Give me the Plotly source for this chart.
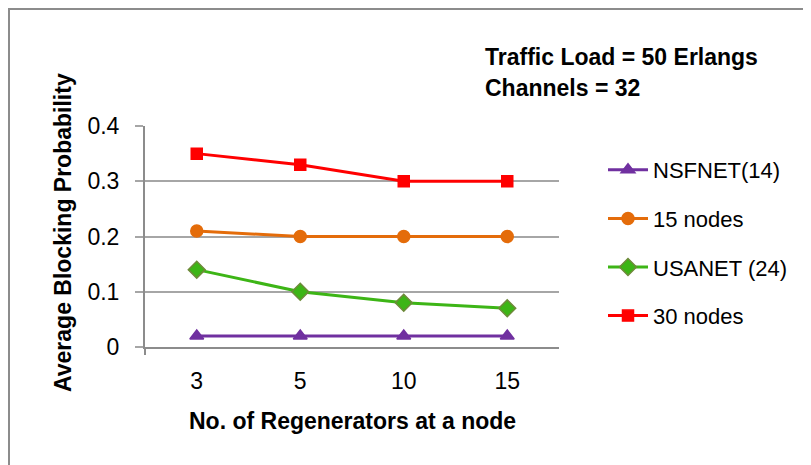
import plotly.graph_objects as go

categories = ["3", "5", "10", "15"]
nsfnet = [0.02, 0.02, 0.02, 0.02]
nodes15 = [0.21, 0.20, 0.20, 0.20]
usanet = [0.14, 0.10, 0.08, 0.07]
nodes30 = [0.35, 0.33, 0.30, 0.30]
y_ticks = [0, 0.1, 0.2, 0.3, 0.4]
y_tick_labels = ["0", "0.1", "0.2", "0.3", "0.4"]

FONT = "Liberation Sans, Arial, sans-serif"

fig = go.Figure()
series = [
    ("NSFNET(14)", nsfnet, "#7030A0", "triangle-up", 12, "#7030A0"),
    ("15 nodes", nodes15, "#E46C0A", "circle", 12, "#E46C0A"),
    ("USANET (24)", usanet, "#3DB516", "diamond", 13, "#6E8A3A"),
    ("30 nodes", nodes30, "#FF0000", "square", 11, "#FF0000"),
]
for i, (name, vals, col, sym, sz, lcol) in enumerate(series):
    fig.add_trace(go.Scatter(
        x=categories, y=vals, name=name, mode="lines+markers",
        line=dict(color=col, width=3),
        marker=dict(symbol=sym, size=sz, color=col, line=dict(color=lcol, width=1.5)),
        legendgroup=f"g{i}",
    ))

OFF = 8  # page offset of the figure in the browser window
W, H = 803, 457
L, T = 145 - OFF, 126 - OFF
R = W - (559 - OFF)
B = H - (347 - OFF)
pw, ph = W - L - R, H - T - B

def px(xs):
    return (xs - OFF - L) / pw

def py(ys):
    return (H - B - (ys - OFF)) / ph

fig.update_layout(
    width=W, height=H,
    margin=dict(l=L, r=R, t=T, b=B, pad=0),
    paper_bgcolor="white", plot_bgcolor="white",
    font=dict(family=FONT, size=22, color="black"),
    showlegend=True,
    legend=dict(x=px(603), y=py(149), xanchor="left", yanchor="top",
                font=dict(family=FONT, size=22), tracegroupgap=17,
                itemwidth=40, bgcolor="rgba(0,0,0,0)"),
    xaxis=dict(type="category", range=[-0.5, 3.5], showgrid=False,
               showline=True, linecolor="#8C8C8C", linewidth=2,
               ticks="", ticklabelstandoff=12, fixedrange=True,
               tickfont=dict(family=FONT, size=23)),
    yaxis=dict(range=[0, 0.4], tickvals=y_ticks, ticktext=y_tick_labels,
               showgrid=True, gridcolor="#A6A6A6", gridwidth=2,
               showline=True, linecolor="#8C8C8C", linewidth=2,
               ticks="outside", ticklen=8, tickcolor="#A6A6A6", tickwidth=2,
               zeroline=False, ticklabelstandoff=11, fixedrange=True,
               tickfont=dict(family=FONT, size=23)),
    shapes=[
        dict(type="rect", xref="paper", yref="paper",
             x0=px(OFF + 1), x1=px(840), y0=py(490), y1=py(OFF + 1),
             line=dict(color="#8C8C8C", width=2), fillcolor="rgba(0,0,0,0)",
             layer="below"),
        dict(type="line", xref="paper", yref="paper",
             x0=0, x1=0, y0=py(355), y1=0,
             line=dict(color="#8C8C8C", width=2)),
    ],
    annotations=[
        dict(text="<b>Traffic Load = 50 Erlangs</b>", xref="paper", yref="paper",
             x=px(483), y=py(57), xanchor="left", yanchor="middle", showarrow=False,
             font=dict(family=FONT, size=23)),
        dict(text="<b>Channels = 32</b>", xref="paper", yref="paper",
             x=px(483), y=py(88), xanchor="left", yanchor="middle", showarrow=False,
             font=dict(family=FONT, size=23)),
        dict(text="<b>No. of Regenerators at a node</b>", xref="paper", yref="paper",
             x=px(352), y=py(421), xanchor="center", yanchor="middle", showarrow=False,
             font=dict(family=FONT, size=23)),
        dict(text="<b>Average Blocking Probability</b>", xref="paper", yref="paper",
             x=px(63), y=py(233), xanchor="center", yanchor="middle", showarrow=False,
             textangle=-90, font=dict(family=FONT, size=23)),
    ],
)

fig.write_html("out.html")
